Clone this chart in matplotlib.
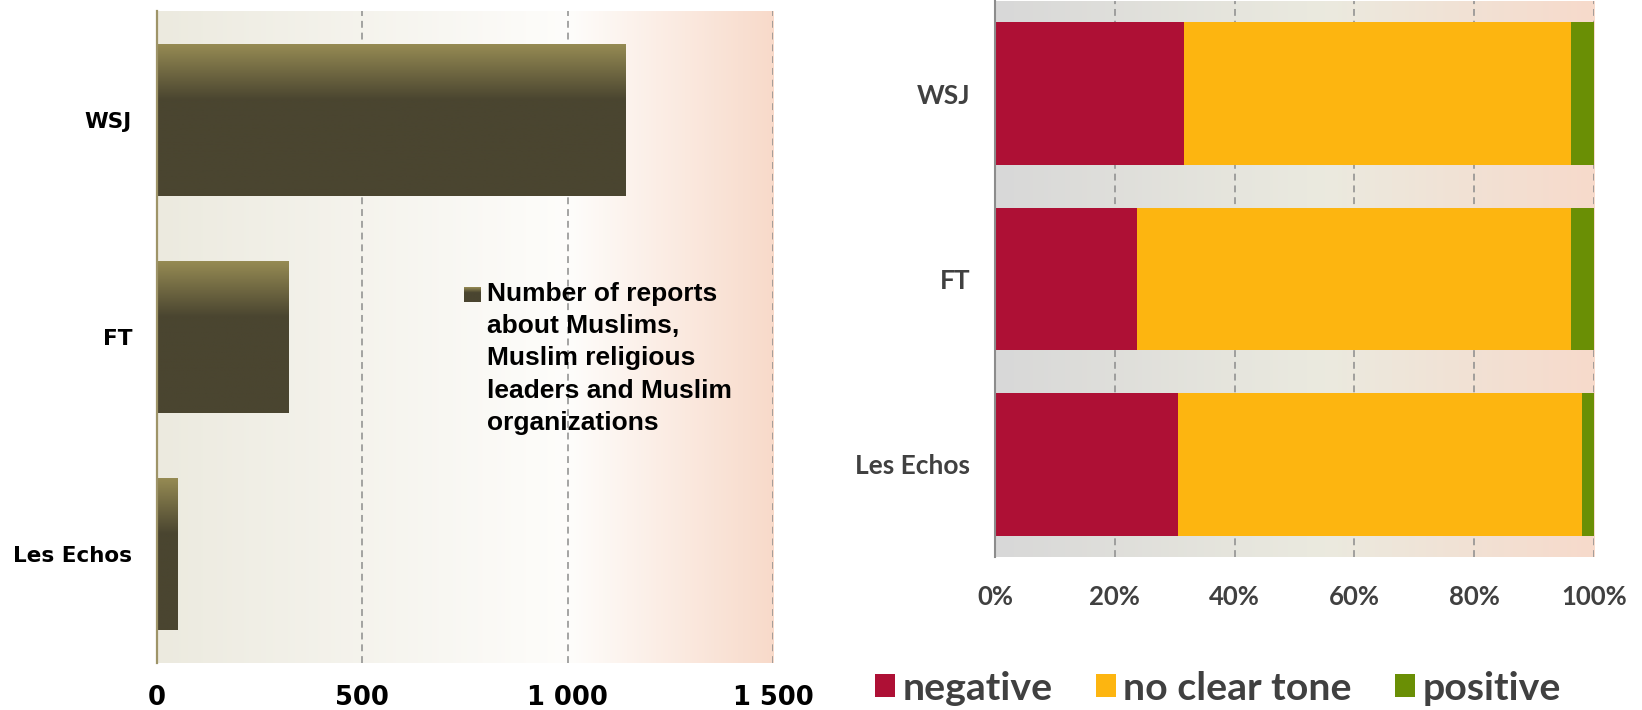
import numpy as np
import matplotlib
matplotlib.use("Agg")
import matplotlib.pyplot as plt
from matplotlib.colors import LinearSegmentedColormap
from matplotlib.ticker import FuncFormatter

# data
papers = ["WSJ", "FT", "Les Echos"]
reports = [1140, 320, 50]
legend_left = "Number of reports\nabout Muslims,\nMuslim religious\nleaders and Muslim\norganizations"

tone_names = ["negative", "no clear tone", "positive"]
negative = [31.5, 23.7, 30.6]
no_clear = [64.7, 72.5, 67.4]
positive = [3.8, 3.8, 2.0]
tone_colors = ["#AE1035", "#FDB510", "#6A8F05"]

W, H = 1642, 710
fig = plt.figure(figsize=(W / 100, H / 100), dpi=100)


def fx(px):
    return px / W


def fy(px):
    return 1 - px / H


def hgrad(ax, stops):
    cmap = LinearSegmentedColormap.from_list("bg", stops)
    g = np.linspace(0, 1, 512)[None, :]
    ax.imshow(g, cmap=cmap, extent=(0, 1, 0, 1), transform=ax.transAxes,
              aspect="auto", zorder=0, interpolation="bilinear")


bar_cmap = LinearSegmentedColormap.from_list(
    "bar", [(0, "#978C54"), (0.37, "#4A4530"), (1, "#4A4530")])

# ---------------- left chart ----------------
ax1 = fig.add_axes([fx(157), fy(663), fx(773 - 157), (663 - 11) / H])
hgrad(ax1, [(0, "#ECEADF"), (0.67, "#FEFDFB"), (1, "#F8DACA")])
ypos = np.arange(len(papers))
bars = ax1.barh(ypos, reports, height=0.7, color="none", zorder=2)
grad = np.linspace(0, 1, 256)[:, None]
for b in bars:
    x0, y0 = b.get_x(), b.get_y()
    w, h = b.get_width(), b.get_height()
    im = ax1.imshow(grad, cmap=bar_cmap, extent=(x0, x0 + w, y0 + h, y0),
                    origin="upper", aspect="auto", zorder=2)
    im.set_clip_path(b)
ax1.set_xlim(0, 1500)
ax1.set_ylim(2.5, -0.5)
ax1.set_xticks([0, 500, 1000, 1500])
ax1.xaxis.set_major_formatter(FuncFormatter(lambda v, p: f"{int(v):,}".replace(",", " ")))
ax1.set_yticks(ypos)
ax1.set_yticklabels(papers)
ax1.tick_params(length=0)
ax1.tick_params(axis="x", pad=15.5, labelsize=18.5)
ax1.tick_params(axis="y", pad=18, labelsize=15.5)
for lab in ax1.get_xticklabels() + ax1.get_yticklabels():
    lab.set_fontweight("bold")
    lab.set_color("black")
ax1.xaxis.grid(True, color="#8C8C8C", linestyle=(0, (4.5, 3.2)), linewidth=1.1, zorder=1)
ax1.set_axisbelow(True)
for s in ["top", "right", "bottom"]:
    ax1.spines[s].set_visible(False)
ax1.spines["left"].set_color("#9E9468")
ax1.spines["left"].set_linewidth(1.6)
ax1.spines["left"].set_zorder(3)

# legend of left chart
sq = fig.add_axes([fx(464), fy(302), fx(16), 15 / H])
sq.imshow(grad, cmap=bar_cmap, aspect="auto", extent=(0, 1, 0, 1))
sq.axis("off")
fig.text(fx(487), fy(282), legend_left, ha="left", va="top",
         fontsize=19, fontweight="bold", family=["Liberation Sans", "DejaVu Sans"],
         linespacing=1.43, color="black")

# ---------------- right chart ----------------
ax2 = fig.add_axes([fx(995), fy(557), fx(1594 - 995), 556 / H])
hgrad(ax2, [(0, "#D8D8D8"), (0.55, "#EBEADF"), (1, "#F7DACB")])
left = np.zeros(len(papers))
for vals, name, col in zip([negative, no_clear, positive], tone_names, tone_colors):
    ax2.barh(ypos, vals, left=left, height=0.77, color=col, label=name, zorder=2)
    left = left + np.array(vals)
ax2.set_xlim(0, 100)
ax2.set_ylim(2.5, -0.5)
ax2.set_xticks([0, 20, 40, 60, 80, 100])
ax2.xaxis.set_major_formatter(FuncFormatter(lambda v, p: f"{int(v)}%"))
ax2.set_yticks(ypos)
ax2.set_yticklabels(papers)
ax2.tick_params(length=0)
rfont = ["Lato", "DejaVu Sans"]
ax2.tick_params(axis="x", pad=20, labelsize=18.5, labelcolor="#404040")
ax2.tick_params(axis="y", pad=18, labelsize=19, labelcolor="#404040")
for lab in ax2.get_xticklabels() + ax2.get_yticklabels():
    lab.set_fontweight("bold")
    lab.set_family(rfont)
ax2.xaxis.grid(True, color="#8C8C8C", linestyle=(0, (4.5, 3.2)), linewidth=1.1, zorder=1)
ax2.set_axisbelow(True)
for s in ["top", "right", "bottom"]:
    ax2.spines[s].set_visible(False)
ax2.spines["left"].set_color("#8C8C8C")
ax2.spines["left"].set_linewidth(1.5)
ax2.spines["left"].set_zorder(3)

h, l = ax2.get_legend_handles_labels()
fig.legend(h, l, loc="center", bbox_to_anchor=(fx(1218), fy(688)), ncol=3,
           frameon=False, prop={"family": rfont, "weight": "bold", "size": 28.3},
           labelcolor="#404040", handlelength=0.5, handleheight=0.5,
           handletextpad=0.2, columnspacing=1.1, borderpad=0, borderaxespad=0)

fig.savefig("out.png", dpi=100)
